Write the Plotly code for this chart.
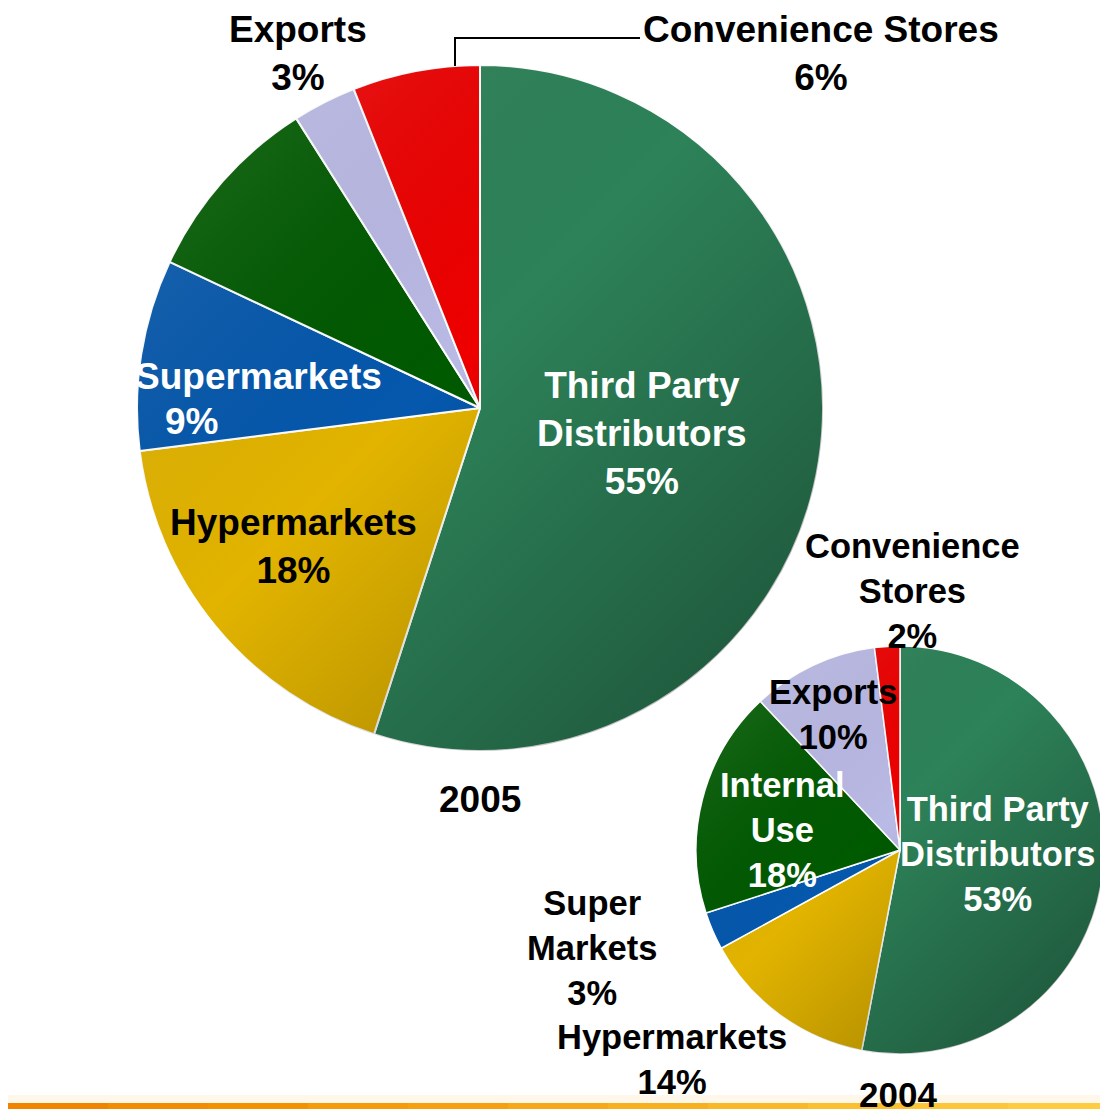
import base64
import plotly.graph_objects as go

# the page puts the figure 8px in from the top-left corner
OFF = 8
W, H = 1100, 1101

# ── data ──────────────────────────────────────────────────────────────────────
channels = ["Third Party Distributors", "Hypermarkets", "Supermarkets",
            "Internal Use", "Exports", "Convenience Stores"]
share_2005 = [55, 18, 9, 9, 3, 6]
share_2004 = [53, 14, 3, 18, 10, 2]

# how each label is broken on the chart
text_2005 = ["Third Party<br>Distributors", "Hypermarkets", "Supermarkets",
             "Internal Use", "Exports", "Convenience Stores"]
text_2004 = ["Third Party<br>Distributors", "Hypermarkets", "Super<br>Markets",
             "Internal<br>Use", "Exports", "Convenience<br>Stores"]

colors = ["#2d8259", "#e2b400", "#0558ad", "#005a00", "#babae6", "#ee0000"]
text_colors = ["white", "black", "white", "white", "black", "black"]
text_colors_2004 = ["white", "black", "black", "white", "black", "black"]


def px(x):
    return (x - OFF) / W


def py(y):
    return 1 - (y - OFF) / H


fig = go.Figure()

# big pie: centre (480, 408), r 343 ; small pie: centre (900, 850), r 204
pies = [(share_2005, 480, 408, 343, 2), (share_2004, 900, 850, 204, 1.5)]
for vals, cx, cy, r, lw in pies:
    fig.add_trace(go.Pie(
        labels=channels, values=vals, sort=False, direction="clockwise",
        rotation=0, textinfo="none", hoverinfo="label+percent",
        marker=dict(colors=colors, line=dict(color="white", width=lw)),
        domain=dict(x=[px(cx - r), px(cx + r)], y=[py(cy + r), py(cy - r)]),
        showlegend=False,
    ))

# diagonal shading over each pie (light top-left, dark bottom-right)
shade_svg = (
    "<svg xmlns='http://www.w3.org/2000/svg' width='200' height='200' "
    "viewBox='0 0 200 200' preserveAspectRatio='none'>"
    "<defs><linearGradient id='g' x1='0' y1='0' x2='1' y2='1'>"
    "<stop offset='0' stop-color='white' stop-opacity='0.16'/>"
    "<stop offset='0.45' stop-color='black' stop-opacity='0'/>"
    "<stop offset='1' stop-color='black' stop-opacity='0.38'/>"
    "</linearGradient></defs>"
    "<circle cx='100' cy='100' r='100' fill='url(#g)'/></svg>"
)
shade_src = "data:image/svg+xml;base64," + base64.b64encode(shade_svg.encode()).decode()
for vals, cx, cy, r, lw in pies:
    fig.add_layout_image(
        source=shade_src, xref="paper", yref="paper",
        x=px(cx - r), y=py(cy - r), sizex=2 * r / W, sizey=2 * r / H,
        xanchor="left", yanchor="top", sizing="stretch", layer="above",
    )

# ── labels (pixel positions of text blocks) ───────────────────────────────────
pos_2005 = [(642, 434), (293, 546), None, (128, 166), (298, 53), (821, 53)]
pos_2004 = [(998, 854), (672, 1059), (592, 948), (782, 830), (833, 714), (912, 591)]


def label(x, y, text, color, size):
    fig.add_annotation(
        x=px(x), y=py(y), xref="paper", yref="paper", text=text,
        showarrow=False, xanchor="center", yanchor="middle",
        font=dict(family="Liberation Sans, Arial", size=size, color=color, weight="bold"),
    )


for i, p in enumerate(pos_2005):
    if p is None:
        continue
    label(p[0], p[1], f"{text_2005[i]}<br>{share_2005[i]}%", text_colors[i], 37)

# Supermarkets 2005 is set out of centre
label(258, 377, text_2005[2], "white", 37)
label(191, 421, f"{share_2005[2]}%", "white", 37)

for i, p in enumerate(pos_2004):
    label(p[0], p[1], f"{text_2004[i]}<br>{share_2004[i]}%", text_colors_2004[i], 34.5)

label(480, 799, "2005", "black", 37)
label(898, 1094, "2004", "black", 35)

# leader line to Convenience Stores (2005)
fig.add_shape(
    type="path", xref="paper", yref="paper",
    path=f"M {px(455)} {py(66)} L {px(455)} {py(38)} L {px(640)} {py(38)}",
    line=dict(color="black", width=2),
)

# orange bar at the bottom, fading to yellow on the right
fig.add_shape(type="rect", xref="paper", yref="paper",
              x0=0, x1=1, y0=6 / H, y1=14 / H,
              fillcolor="rgba(250,190,80,0.12)", line=dict(width=0), layer="below")
bar_cols = ["#f08400", "#f28c00", "#f39200", "#f59a08", "#f6a010", "#f7a818",
            "#f8b020", "#f9b828", "#fbc030", "#fcc638", "#fdcc40"]
n = len(bar_cols)
for k, c in enumerate(bar_cols):
    fig.add_shape(type="rect", xref="paper", yref="paper",
                  x0=k / n, x1=(k + 1) / n, y0=0, y1=6 / H,
                  fillcolor=c, line=dict(width=0), layer="below")

fig.update_layout(
    width=W, height=H,
    margin=dict(l=0, r=0, t=0, b=0),
    paper_bgcolor="white", plot_bgcolor="white",
)

fig.write_html("out.html")
